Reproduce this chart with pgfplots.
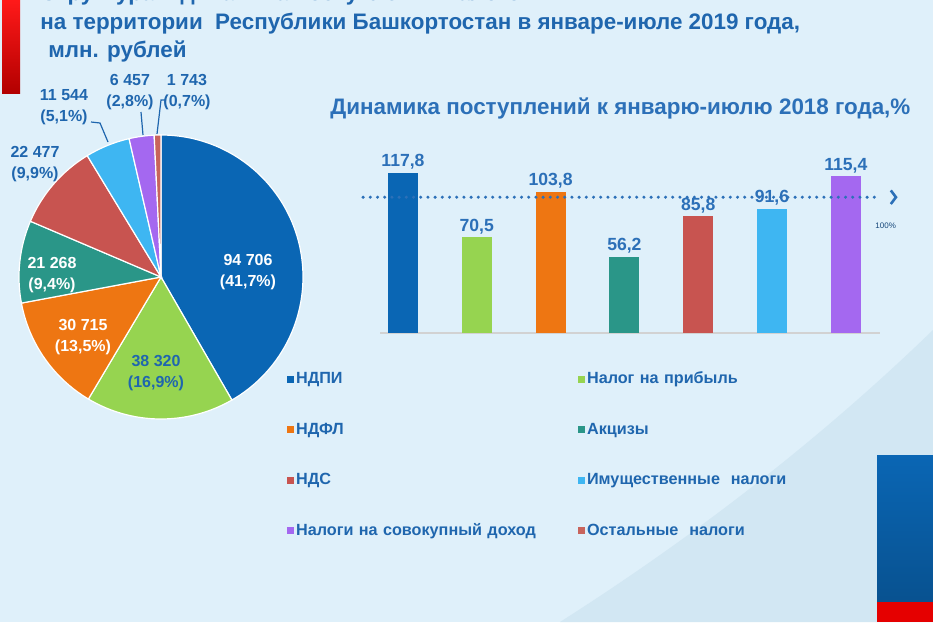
\documentclass[border=0pt]{standalone}
\usepackage{fontspec}
\setmainfont{Liberation Sans}
\usepackage{pgfplots}
\pgfplotsset{compat=1.18}
\usepackage{pgfplotstable}
\definecolor{c0}{HTML}{0A66B4}
\definecolor{c1}{HTML}{96D450}
\definecolor{c2}{HTML}{EE7612}
\definecolor{c3}{HTML}{2A9688}
\definecolor{c4}{HTML}{C85450}
\definecolor{c5}{HTML}{3EB6F2}
\definecolor{c6}{HTML}{A468F0}
\definecolor{c7}{HTML}{C8645C}
\definecolor{txtblue}{HTML}{1F66AE}
\definecolor{ttlblue}{HTML}{2C70B8}
\definecolor{bg}{HTML}{DFF0FA}
\definecolor{bgdark}{HTML}{D2E7F3}

\pgfplotstableread{
value
94706
38320
30715
21268
22477
11544
6457
1743
}\piedata

\pgfplotstableread{
x y
0 117.8
1 70.5
2 103.8
3 56.2
4 85.8
5 91.6
6 115.4
}\bardata

\begin{document}
\begin{tikzpicture}
\begin{scope}[x=0.5pt,y=-0.5pt]
\useasboundingbox (0,0) rectangle (933,622);
\clip (0,0) rectangle (933,622);
\fill[bg] (0,0) rectangle (933,622);
\fill[bgdark] (560,622) .. controls (720,520) and (840,420) .. (933,330) -- (933,622) -- cycle;
% decorative bars
\shade[top color=red!90!white, bottom color=red!70!black] (2,0) rectangle (20,93);
\shade[top color=c0, bottom color=c0!80!black] (877,455) rectangle (933,602);
\fill[red!90!black] (877,602) rectangle (933,622);
% titles
\node[anchor=base west, font=\bfseries\fontsize{11.2pt}{13pt}\selectfont, text=txtblue, inner sep=0pt] at (40,0) {Структура и динамика поступления налогов};
\node[anchor=base west, font=\bfseries\fontsize{11.2pt}{13pt}\selectfont, text=txtblue, inner sep=0pt] at (40,29) {на территории \ Республики Башкортостан в январе-июле 2019 года,};
\node[anchor=base west, font=\bfseries\fontsize{11.2pt}{13pt}\selectfont, text=txtblue, inner sep=0pt] at (48,57) {млн. рублей};
\node[anchor=base west, font=\bfseries\fontsize{11.2pt}{13pt}\selectfont, text=ttlblue, inner sep=0pt] at (330,114) {Динамика поступлений к январю-июлю 2018 года,\%};
% pie labels
\tikzset{plab/.style={align=center, font=\bfseries\fontsize{8pt}{10.5pt}\selectfont, inner sep=0pt}}
\node[plab, txtblue] at (35,164) {22 477\\(9,9\%)};
\node[plab, txtblue] at (64,107) {11 544\\(5,1\%)};
\node[plab, txtblue] at (130,92) {6 457\\(2,8\%)};
\node[plab, txtblue] at (187,92) {1 743\\(0,7\%)};
\draw[txtblue, line width=0.6pt] (91,122) -- (100,123) -- (108,142);
\draw[txtblue, line width=0.6pt] (141,112) -- (143,135);
\draw[txtblue, line width=0.6pt] (166,100) -- (161,100) -- (157,134);
\end{scope}

% pie angles
\def\pietotal{0}
\foreach \i in {0,...,7}{\pgfplotstablegetelem{\i}{value}\of\piedata
  \xdef\pietotal{\fpeval{\pietotal+\pgfplotsretval}}}
\gdef\cur{90}
\foreach \i in {0,...,7}{\pgfplotstablegetelem{\i}{value}\of\piedata
  \expandafter\xdef\csname sa\i\endcsname{\cur}
  \xdef\cur{\fpeval{\cur-360*\pgfplotsretval/\pietotal}}
  \expandafter\xdef\csname ea\i\endcsname{\cur}}

\begin{axis}[at={(5.5pt,-213.5pt)}, anchor=south west, x=0.5pt, y=0.5pt,
  xmin=-150, xmax=150, ymin=-150, ymax=150, hide axis, clip=false]
\pgfplotsinvokeforeach{0,...,7}{
  \fill[c#1, draw=white, line width=0.6pt] (axis cs:0,0) -- +(\csname sa#1\endcsname:71pt)
    arc[start angle=\csname sa#1\endcsname, end angle=\csname ea#1\endcsname, radius=71pt] -- cycle;
}
\end{axis}

\begin{scope}[x=0.5pt,y=-0.5pt]
\tikzset{plab/.style={align=center, font=\bfseries\fontsize{8pt}{10.5pt}\selectfont, inner sep=0pt}}
\node[plab, white] at (248,272) {94 706\\(41,7\%)};
\node[plab, txtblue] at (156,373) {38 320\\(16,9\%)};
\node[plab, white] at (83,337) {30 715\\(13,5\%)};
\node[plab, white] at (52,275) {21 268\\(9,4\%)};
\end{scope}

\begin{axis}[at={(190.05pt,-166.5pt)}, anchor=south west, x=36.9pt, y=0.679pt,
  xmin=-0.31, xmax=6.46, ymin=0, ymax=125, enlargelimits=false,
  axis x line*=bottom, axis y line=none, xtick=\empty, ytick=\empty,
  x axis line style={draw=gray!35, line width=0.8pt},
  ybar, bar width=15pt, bar shift=0pt, clip=false,
  nodes near coords={\pgfmathprintnumber[fixed,fixed zerofill,precision=1,use comma,assume math mode=true]{\pgfplotspointmeta}},
  every node near coord/.append style={font=\bfseries\fontsize{8.8pt}{10pt}\selectfont, text=ttlblue, anchor=south, inner sep=1.5pt},
  mybar/.style={fill=#1, draw=none, legend image code/.code={\fill[fill=#1] (0pt,-1.75pt) rectangle (3.5pt,1.75pt);}},
  legend columns=2,
  legend style={at={(axis description cs:-0.199,-0.180)}, anchor=north west, draw=none, fill=none,
    font=\bfseries\fontsize{8.1pt}{10pt}\selectfont, text=txtblue, row sep=14pt,
    nodes={text width=140pt, inner xsep=1pt, align=left}},
  legend cell align=left,
]
\addplot[mybar=c0] table[x=x,y=y, skip coords between index={1}{7}] {\bardata};
\addplot[mybar=c1] table[x=x,y=y, skip coords between index={0}{1}, skip coords between index={2}{7}] {\bardata};
\addplot[mybar=c2] table[x=x,y=y, skip coords between index={0}{2}, skip coords between index={3}{7}] {\bardata};
\addplot[mybar=c3] table[x=x,y=y, skip coords between index={0}{3}, skip coords between index={4}{7}] {\bardata};
\addplot[mybar=c4] table[x=x,y=y, skip coords between index={0}{4}, skip coords between index={5}{7}] {\bardata};
\addplot[mybar=c5] table[x=x,y=y, skip coords between index={0}{5}, skip coords between index={6}{7}] {\bardata};
\addplot[mybar=c6] table[x=x,y=y, skip coords between index={0}{6}] {\bardata};
\addlegendimage{mybar=c7}
\legend{НДПИ, Налог на прибыль, НДФЛ, Акцизы, НДС, Имущественные \ налоги, Налоги на совокупный доход, Остальные \ налоги}
\draw[ttlblue, line width=1.7pt, line cap=round, dash pattern=on 0pt off 3.6pt] (axis cs:-0.54,100) -- (axis cs:6.46,100);
\draw[ttlblue, line width=1.3pt] (axis cs:6.61,105) -- (axis cs:6.68,100) -- (axis cs:6.61,95);
\node[font=\fontsize{4pt}{5pt}\selectfont, text=txtblue!70!black] at (axis cs:6.54,79) {100\%};
\end{axis}
\end{tikzpicture}
\end{document}
